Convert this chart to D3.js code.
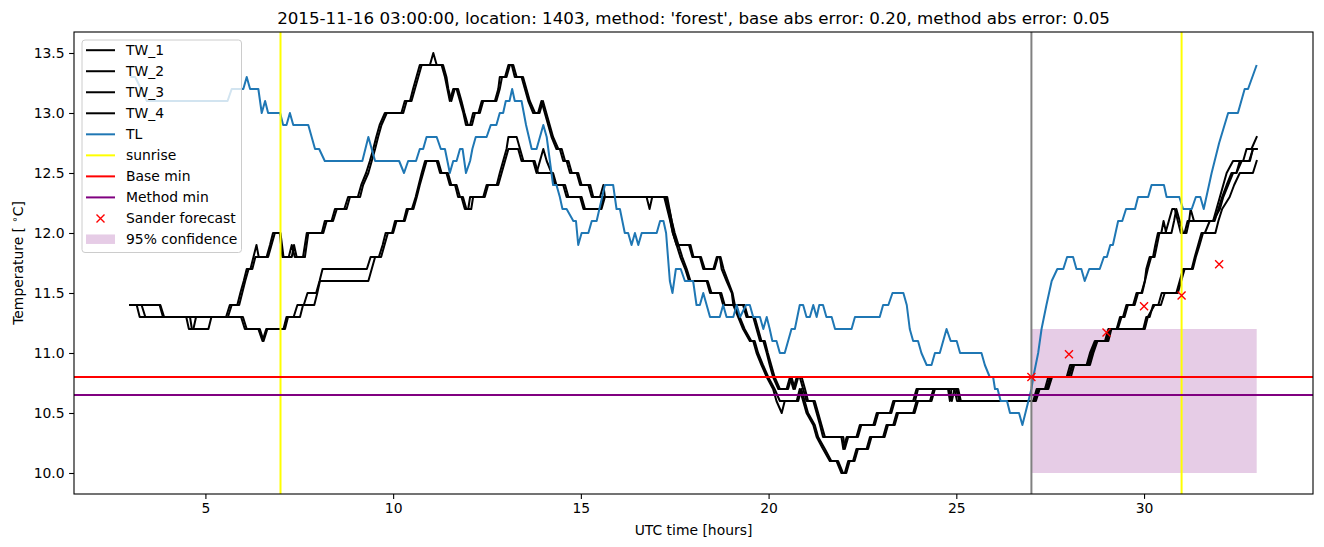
<!DOCTYPE html>
<html><head><meta charset="utf-8">
<script src="https://cdn.jsdelivr.net/npm/d3@7"></script>
<style>body{margin:0;background:#fff} text{font-family:"DejaVu Sans",sans-serif}</style>
</head><body><svg id="c" width="1324" height="547"></svg>
<script>
const TITLE = "2015-11-16 03:00:00, location: 1403, method: 'forest', base abs error: 0.20, method abs error: 0.05";
const X_LABEL = "UTC time [hours]";
const X_TICKS = [5, 10, 15, 20, 25, 30];
const Y_TICKS = [10.0, 10.5, 11.0, 11.5, 12.0, 12.5, 13.0, 13.5];
const SUNRISE = [7, 31];
const NOW_T = 27;
const BASE_MIN = 10.8;
const METHOD_MIN = 10.65;
const FORECAST_T = [27, 28, 29, 30, 31, 32];
const FORECAST_V = [10.80, 10.99, 11.17, 11.39, 11.48, 11.74];
const CONF_T = [27, 33];
const CONF_V = [10.0, 11.2];
const LEGEND_LABELS = ["TW_1","TW_2","TW_3","TW_4","TL","sunrise","Base min","Method min","Sander forecast","95% confidence"];

const TW_1 = [[3.0,11.4],[3.17,11.4],[3.25,11.3],[5.55,11.3],[5.65,11.4],[5.85,11.4],[5.93,11.5],[6.02,11.6],[6.1,11.7],[6.2,11.7],[6.28,11.8],[6.36,11.9],[6.42,11.8],[6.63,11.8],[6.72,11.9],[6.8,12.0],[6.98,12.0],[7.05,11.8],[7.22,11.8],[7.3,11.9],[7.38,11.8],[7.6,11.8],[7.7,12.0],[8.1,12.0],[8.18,12.1],[8.36,12.1],[8.45,12.2],[8.7,12.2],[8.8,12.3],[9.06,12.3],[9.15,12.4],[9.28,12.5],[9.38,12.6],[9.47,12.7],[9.55,12.8],[9.64,12.9],[9.78,13.0],[10.22,13.0],[10.31,13.1],[10.45,13.1],[10.53,13.2],[10.62,13.3],[10.71,13.4],[10.98,13.4],[11.07,13.5],[11.16,13.4],[11.29,13.4],[11.38,13.3],[11.51,13.1],[11.6,13.2],[11.69,13.2],[11.78,13.1],[11.87,13.0],[11.94,12.9],[12.05,12.9],[12.13,13.0],[12.27,13.0],[12.36,13.1],[12.71,13.1],[12.8,13.2],[12.84,13.3],[12.98,13.3],[13.07,13.4],[13.16,13.4],[13.24,13.3],[13.42,13.3],[13.51,13.2],[13.6,13.1],[13.73,13.0],[13.86,13.0],[13.95,13.1],[14.04,13.0],[14.13,12.9],[14.22,12.8],[14.35,12.7],[14.44,12.7],[14.53,12.6],[14.62,12.6],[14.71,12.5],[14.89,12.5],[14.98,12.4],[15.2,12.4],[15.29,12.3],[15.51,12.3],[15.6,12.4],[15.64,12.3],[17.27,12.3],[17.45,12.0],[17.55,11.9],[17.88,11.9],[17.97,11.8],[18.17,11.8],[18.26,11.7],[18.53,11.7],[18.62,11.8],[18.7,11.8],[18.75,11.7],[18.88,11.6],[19.02,11.5],[19.06,11.4],[19.32,11.4],[19.41,11.3],[19.59,11.3],[19.68,11.2],[19.77,11.1],[19.86,11.1],[19.95,11.0],[20.03,10.9],[20.12,10.8],[20.26,10.7],[20.48,10.7],[20.57,10.8],[20.66,10.7],[20.75,10.8],[20.83,10.8],[20.92,10.7],[21.01,10.6],[21.19,10.6],[21.28,10.5],[21.37,10.4],[21.45,10.3],[21.94,10.3],[21.99,10.2],[22.08,10.3],[22.34,10.3],[22.43,10.4],[22.79,10.4],[22.88,10.5],[23.23,10.5],[23.32,10.6],[23.85,10.6],[23.94,10.7],[24.78,10.7],[24.83,10.6],[24.87,10.7],[25.0,10.7],[25.1,10.6],[27.05,10.6],[27.14,10.7],[27.36,10.7],[27.45,10.8],[27.94,10.8],[28.03,10.9],[28.47,10.9],[28.56,11.0],[28.69,11.1],[28.96,11.1],[29.05,11.2],[29.27,11.2],[29.36,11.3],[29.44,11.3],[29.53,11.4],[29.71,11.4],[29.8,11.5],[29.93,11.5],[30.02,11.6],[30.06,11.7],[30.15,11.8],[30.24,11.8],[30.3,11.9],[30.37,12.0],[30.46,12.0],[30.52,12.1],[30.59,12.0],[30.73,12.0],[30.8,12.1],[30.86,12.2],[30.95,12.1],[31.04,12.0],[31.13,12.0],[31.2,12.1],[31.24,12.2],[31.33,12.1],[31.84,12.1],[31.93,12.2],[32.02,12.3],[32.11,12.4],[32.2,12.5],[32.37,12.6],[32.64,12.6],[32.73,12.7],[32.86,12.7],[33.0,12.8]];

const TW_2 = [[3.0,11.4],[3.3,11.4],[3.4,11.3],[5.6,11.3],[5.7,11.4],[5.9,11.4],[5.98,11.5],[6.06,11.6],[6.15,11.7],[6.25,11.7],[6.33,11.8],[6.67,11.8],[6.76,11.9],[6.85,12.0],[7.0,12.0],[7.08,11.8],[7.3,11.8],[7.36,11.9],[7.43,11.8],[7.65,11.8],[7.74,12.0],[8.14,12.0],[8.23,12.1],[8.4,12.1],[8.5,12.2],[8.76,12.2],[8.85,12.3],[9.12,12.3],[9.2,12.4],[9.34,12.5],[9.43,12.6],[9.52,12.7],[9.6,12.8],[9.69,12.9],[9.83,13.0],[10.27,13.0],[10.36,13.1],[10.49,13.1],[10.58,13.2],[10.67,13.3],[10.76,13.4],[11.33,13.4],[11.42,13.3],[11.47,13.2],[11.55,13.1],[11.64,13.2],[11.73,13.2],[11.82,13.1],[11.9,13.0],[11.99,12.9],[12.1,12.9],[12.18,13.0],[12.31,13.0],[12.4,13.1],[12.75,13.1],[12.84,13.2],[12.9,13.3],[13.02,13.3],[13.11,13.4],[13.2,13.4],[13.29,13.3],[13.46,13.3],[13.55,13.2],[13.64,13.1],[13.78,13.0],[13.9,13.0],[13.99,13.1],[14.08,13.0],[14.17,12.9],[14.26,12.8],[14.4,12.7],[14.49,12.7],[14.58,12.6],[14.67,12.6],[14.76,12.5],[14.93,12.5],[15.02,12.4],[15.25,12.4],[15.33,12.3],[16.75,12.3],[16.83,12.2],[16.9,12.3],[17.3,12.3],[17.48,12.0],[17.58,11.9],[17.92,11.9],[18.0,11.8],[18.2,11.8],[18.3,11.7],[18.56,11.7],[18.65,11.8],[18.72,11.8],[18.8,11.7],[18.92,11.6],[19.04,11.5],[19.1,11.4],[19.36,11.4],[19.45,11.3],[19.63,11.3],[19.72,11.2],[19.81,11.1],[19.9,11.1],[19.98,11.0],[20.07,10.9],[20.16,10.8],[20.3,10.7],[20.52,10.7],[20.61,10.8],[20.7,10.7],[20.79,10.8],[20.88,10.8],[20.97,10.7],[21.05,10.6],[21.23,10.6],[21.32,10.5],[21.41,10.4],[21.5,10.3],[21.99,10.3],[22.03,10.2],[22.12,10.3],[22.38,10.3],[22.47,10.4],[22.83,10.4],[22.92,10.5],[23.27,10.5],[23.36,10.6],[23.9,10.6],[23.98,10.7],[24.8,10.7],[24.88,10.6],[24.95,10.7],[25.05,10.7],[25.12,10.6],[27.08,10.6],[27.18,10.7],[27.4,10.7],[27.5,10.8],[27.98,10.8],[28.08,10.9],[28.5,10.9],[28.6,11.0],[28.72,11.1],[29.0,11.1],[29.1,11.2],[29.3,11.2],[29.4,11.3],[29.48,11.3],[29.57,11.4],[29.75,11.4],[29.84,11.5],[29.95,11.5],[30.1,11.7],[30.19,11.8],[30.28,11.8],[30.41,12.0],[30.57,12.0],[30.66,12.1],[30.75,12.2],[30.82,12.2],[30.9,12.1],[30.98,12.0],[31.08,12.0],[31.16,12.1],[31.88,12.1],[31.98,12.2],[32.08,12.3],[32.2,12.4],[32.33,12.5],[32.46,12.5],[32.6,12.6],[32.8,12.6],[32.9,12.7],[33.0,12.7]];

const TW_3 = [[3.0,11.4],[3.78,11.4],[3.87,11.3],[4.49,11.3],[4.56,11.2],[4.68,11.2],[4.75,11.3],[5.95,11.3],[6.05,11.2],[6.41,11.2],[6.52,11.1],[6.62,11.2],[7.08,11.2],[7.16,11.3],[7.35,11.3],[7.45,11.4],[7.62,11.4],[7.72,11.5],[7.95,11.5],[8.04,11.6],[8.12,11.7],[9.3,11.7],[9.4,11.8],[9.62,11.8],[9.72,11.9],[9.8,12.0],[9.97,12.0],[10.05,12.1],[10.28,12.1],[10.36,12.2],[10.5,12.2],[10.6,12.3],[10.68,12.4],[10.76,12.5],[10.85,12.6],[11.16,12.6],[11.25,12.5],[11.42,12.5],[11.51,12.4],[11.65,12.4],[11.73,12.3],[11.82,12.3],[11.91,12.2],[12.0,12.2],[12.05,12.3],[12.4,12.3],[12.49,12.4],[12.76,12.4],[12.84,12.5],[12.93,12.6],[13.02,12.7],[13.07,12.8],[13.29,12.8],[13.38,12.7],[13.47,12.6],[13.73,12.6],[13.82,12.5],[13.91,12.6],[14.0,12.7],[14.09,12.6],[14.22,12.5],[14.31,12.4],[14.53,12.4],[14.62,12.3],[14.98,12.3],[15.07,12.2],[15.51,12.2],[15.6,12.3],[17.22,12.3],[17.3,12.2],[17.38,12.1],[17.45,12.0],[17.55,11.9],[17.65,11.8],[17.78,11.7],[17.88,11.6],[18.35,11.6],[18.44,11.5],[18.7,11.5],[18.79,11.4],[19.06,11.4],[19.19,11.3],[19.32,11.2],[19.5,11.1],[19.59,11.1],[19.68,11.0],[19.81,10.9],[19.95,10.8],[20.12,10.7],[20.21,10.6],[20.35,10.5],[20.43,10.6],[20.75,10.6],[20.83,10.7],[20.92,10.6],[21.01,10.5],[21.19,10.4],[21.28,10.3],[21.45,10.2],[21.63,10.1],[21.81,10.1],[21.94,10.0],[22.03,10.0],[22.12,10.1],[22.25,10.1],[22.34,10.2],[22.61,10.2],[22.7,10.3],[23.05,10.3],[23.14,10.4],[23.32,10.4],[23.41,10.5],[23.85,10.5],[23.94,10.6],[24.3,10.6],[24.39,10.7],[25.0,10.7],[25.08,10.6],[27.1,10.6],[27.2,10.7],[27.42,10.7],[27.52,10.8],[28.0,10.8],[28.1,10.9],[28.52,10.9],[28.62,11.0],[28.72,11.1],[29.0,11.1],[29.08,11.2],[29.98,11.2],[30.06,11.3],[30.15,11.3],[30.24,11.4],[30.38,11.4],[30.47,11.5],[30.86,11.5],[30.95,11.6],[31.04,11.7],[31.27,11.7],[31.35,11.8],[31.44,11.9],[31.53,12.0],[31.62,12.0],[31.75,12.1],[31.84,12.1],[32.02,12.2],[32.11,12.3],[32.24,12.4],[32.37,12.5],[32.46,12.5],[32.55,12.6],[32.82,12.6],[32.9,12.7],[33.0,12.7]];

const TW_4 = [[3.0,11.4],[3.8,11.4],[3.9,11.3],[4.59,11.3],[4.64,11.2],[5.08,11.2],[5.16,11.3],[6.0,11.3],[6.1,11.2],[6.45,11.2],[6.55,11.1],[6.65,11.2],[7.12,11.2],[7.2,11.3],[7.52,11.3],[7.6,11.4],[7.9,11.4],[7.98,11.5],[8.05,11.6],[9.34,11.6],[9.43,11.7],[9.52,11.8],[9.68,11.8],[9.77,11.9],[9.86,12.0],[10.0,12.0],[10.09,12.1],[10.31,12.1],[10.4,12.2],[10.54,12.2],[10.63,12.3],[10.71,12.4],[10.8,12.5],[10.89,12.6],[11.2,12.6],[11.29,12.5],[11.46,12.5],[11.55,12.4],[11.69,12.4],[11.78,12.3],[11.86,12.3],[11.95,12.2],[12.08,12.2],[12.13,12.3],[12.44,12.3],[12.53,12.4],[12.8,12.4],[12.89,12.5],[12.98,12.6],[13.07,12.7],[13.33,12.7],[13.42,12.6],[13.77,12.6],[13.86,12.5],[14.26,12.5],[14.35,12.4],[14.58,12.4],[14.67,12.3],[15.02,12.3],[15.11,12.2],[15.55,12.2],[15.64,12.3],[17.25,12.3],[17.35,12.2],[17.42,12.1],[17.5,12.0],[17.6,11.9],[17.7,11.8],[17.82,11.7],[17.92,11.6],[18.38,11.6],[18.48,11.5],[18.74,11.5],[18.83,11.4],[19.1,11.4],[19.23,11.3],[19.36,11.2],[19.54,11.1],[19.63,11.1],[19.72,11.0],[19.85,10.9],[19.99,10.8],[20.16,10.7],[20.3,10.6],[20.79,10.6],[20.87,10.7],[20.96,10.6],[21.05,10.5],[21.23,10.4],[21.32,10.3],[21.5,10.2],[21.67,10.1],[21.85,10.1],[21.98,10.0],[22.07,10.0],[22.16,10.1],[22.29,10.1],[22.38,10.2],[22.65,10.2],[22.74,10.3],[23.09,10.3],[23.18,10.4],[23.36,10.4],[23.45,10.5],[23.89,10.5],[23.98,10.6],[24.34,10.6],[24.43,10.7],[24.95,10.7],[25.02,10.6],[27.12,10.6],[27.22,10.7],[27.45,10.7],[27.55,10.8],[28.05,10.8],[28.14,10.9],[28.56,10.9],[28.65,11.0],[28.76,11.1],[29.05,11.1],[29.13,11.2],[30.02,11.2],[30.1,11.3],[30.28,11.4],[30.45,11.4],[30.55,11.5],[30.9,11.5],[30.99,11.6],[31.08,11.7],[31.3,11.7],[31.38,11.8],[31.48,11.9],[31.57,12.0],[31.9,12.0],[31.98,12.1],[32.08,12.2],[32.28,12.3],[32.4,12.4],[32.55,12.5],[32.9,12.5],[33.0,12.6]];

const TL = [[3.0,13.3],[3.13,13.3],[3.44,13.1],[5.59,13.1],[5.7,13.2],[6.01,13.2],[6.1,13.3],[6.19,13.2],[6.41,13.2],[6.5,13.0],[6.59,13.1],[6.67,13.0],[6.99,13.0],[7.07,12.9],[7.16,12.9],[7.25,13.0],[7.34,12.9],[7.74,12.9],[7.92,12.7],[8.03,12.7],[8.18,12.6],[9.18,12.6],[9.34,12.8],[9.52,12.6],[10.16,12.6],[10.29,12.5],[10.4,12.6],[10.61,12.6],[10.71,12.7],[10.8,12.7],[10.89,12.8],[11.16,12.8],[11.27,12.7],[11.38,12.7],[11.51,12.5],[11.6,12.6],[11.69,12.6],[11.78,12.7],[11.85,12.7],[11.94,12.5],[12.05,12.6],[12.11,12.7],[12.2,12.8],[12.49,12.8],[12.6,12.9],[12.75,12.9],[12.84,13.0],[12.93,13.0],[13.0,13.1],[13.1,13.1],[13.17,13.2],[13.24,13.1],[13.42,13.1],[13.54,12.9],[13.69,12.7],[13.82,12.7],[14.0,12.9],[14.09,12.8],[14.26,12.4],[14.35,12.4],[14.44,12.3],[14.51,12.2],[14.62,12.2],[14.8,12.1],[14.87,12.1],[14.93,11.9],[15.02,12.0],[15.2,12.0],[15.29,12.1],[15.42,12.1],[15.64,12.4],[15.86,12.4],[15.95,12.2],[16.04,12.2],[16.17,12.0],[16.26,12.0],[16.35,11.9],[16.44,12.0],[16.53,11.9],[16.62,12.0],[17.02,12.0],[17.11,12.1],[17.2,12.1],[17.27,12.0],[17.37,11.6],[17.44,11.5],[17.53,11.7],[17.66,11.7],[17.77,11.6],[17.99,11.6],[18.08,11.4],[18.17,11.4],[18.26,11.5],[18.35,11.4],[18.44,11.3],[18.7,11.3],[18.79,11.4],[18.88,11.3],[19.06,11.3],[19.15,11.4],[19.24,11.3],[19.4,11.4],[19.5,11.4],[19.59,11.3],[19.77,11.3],[19.86,11.2],[19.95,11.3],[20.03,11.2],[20.1,11.1],[20.21,11.1],[20.3,11.0],[20.43,11.0],[20.61,11.2],[20.7,11.2],[20.83,11.4],[20.92,11.4],[21.01,11.3],[21.1,11.3],[21.19,11.4],[21.28,11.3],[21.35,11.4],[21.45,11.4],[21.54,11.3],[21.68,11.3],[21.77,11.2],[22.21,11.2],[22.3,11.3],[22.96,11.3],[23.05,11.4],[23.19,11.4],[23.3,11.5],[23.59,11.5],[23.68,11.4],[23.76,11.2],[23.85,11.1],[23.98,11.1],[24.07,11.0],[24.21,10.9],[24.34,10.9],[24.43,11.0],[24.56,11.0],[24.74,11.2],[24.85,11.1],[25.01,11.1],[25.1,11.0],[25.67,11.0],[25.76,10.9],[25.89,10.8],[25.98,10.8],[26.03,10.7],[26.1,10.7],[26.18,10.6],[26.35,10.6],[26.43,10.5],[26.67,10.5],[26.76,10.4],[27.0,10.7],[27.05,10.8],[27.18,11.0],[27.27,11.2],[27.4,11.4],[27.54,11.6],[27.69,11.7],[27.85,11.7],[27.95,11.8],[28.11,11.8],[28.2,11.7],[28.33,11.7],[28.42,11.6],[28.54,11.7],[28.82,11.7],[28.93,11.8],[29.01,11.8],[29.1,11.9],[29.17,11.9],[29.31,12.1],[29.42,12.1],[29.52,12.2],[29.76,12.2],[29.84,12.3],[30.11,12.3],[30.2,12.4],[30.53,12.4],[30.6,12.3],[30.94,12.3],[31.04,12.2],[31.27,12.2],[31.38,12.3],[31.5,12.3],[31.59,12.2],[31.8,12.5],[32.0,12.75],[32.24,13.0],[32.5,13.0],[32.68,13.2],[32.77,13.2],[33.0,13.4]];

const W = 1324, H = 547;
const M = {left: 74, right: 1313, top: 32, bottom: 494};
const svg = d3.select("#c");
const x = d3.scaleLinear().domain([1.5, 34.5]).range([M.left, M.right]);
const y = d3.scaleLinear().domain([9.825, 13.675]).range([M.bottom, M.top]);
const FS = 13.9;

svg.append("defs").append("clipPath").attr("id","clip")
  .append("rect").attr("x",M.left).attr("y",M.top).attr("width",M.right-M.left).attr("height",M.bottom-M.top);
const plot = svg.append("g").attr("clip-path","url(#clip)");

// confidence box
plot.append("rect")
  .attr("x", x(CONF_T[0])).attr("width", x(CONF_T[1]) - x(CONF_T[0]))
  .attr("y", y(CONF_V[1])).attr("height", y(CONF_V[0]) - y(CONF_V[1]))
  .attr("fill", "purple").attr("fill-opacity", 0.2);

const line = d3.line().x(d => x(d[0])).y(d => y(d[1]));
[TW_1, TW_2, TW_3, TW_4].forEach(s => {
  plot.append("path").attr("d", line(s)).attr("fill","none").attr("stroke","black")
    .attr("stroke-width", 2).attr("stroke-linejoin","round").attr("stroke-linecap","square");
});
plot.append("path").attr("d", line(TL)).attr("fill","none").attr("stroke","#1f77b4")
  .attr("stroke-width", 2).attr("stroke-linejoin","round");

SUNRISE.forEach(t => plot.append("line").attr("x1",x(t)).attr("x2",x(t)).attr("y1",M.top).attr("y2",M.bottom)
  .attr("stroke","yellow").attr("stroke-width",2));
plot.append("line").attr("x1",M.left).attr("x2",M.right).attr("y1",y(BASE_MIN)).attr("y2",y(BASE_MIN))
  .attr("stroke","red").attr("stroke-width",2);
plot.append("line").attr("x1",M.left).attr("x2",M.right).attr("y1",y(METHOD_MIN)).attr("y2",y(METHOD_MIN))
  .attr("stroke","purple").attr("stroke-width",2);
plot.append("line").attr("x1",x(NOW_T)).attr("x2",x(NOW_T)).attr("y1",M.top).attr("y2",M.bottom)
  .attr("stroke","grey").attr("stroke-width",2);

const cross = "M-4,-4L4,4M-4,4L4,-4";
FORECAST_T.forEach((t,i) => plot.append("path").attr("d",cross)
  .attr("transform",`translate(${x(t)},${y(FORECAST_V[i])})`).attr("stroke","red").attr("stroke-width",1.4).attr("fill","none"));

// axes
const xa = svg.append("g").attr("transform",`translate(0,${M.bottom})`)
  .call(d3.axisBottom(x).tickValues(X_TICKS).tickSize(4.9).tickPadding(4.5).tickFormat(d3.format("d")));
const ya = svg.append("g").attr("transform",`translate(${M.left},0)`)
  .call(d3.axisLeft(y).tickValues(Y_TICKS).tickSize(4.9).tickPadding(4.5).tickFormat(d3.format(".1f")));
[xa, ya].forEach(a => {
  a.select(".domain").remove();
  a.selectAll("line").attr("stroke","black").attr("stroke-width",1.1);
  a.selectAll("text").attr("font-size",FS).attr("font-family","DejaVu Sans").attr("fill","black");
});
svg.append("rect").attr("x",M.left).attr("y",M.top).attr("width",M.right-M.left).attr("height",M.bottom-M.top)
  .attr("fill","none").attr("stroke","black").attr("stroke-width",1.1);

// labels
svg.append("text").attr("x",(M.left+M.right)/2).attr("y",24).attr("text-anchor","middle")
  .attr("font-size",16.7).text(TITLE);
svg.append("text").attr("x",(M.left+M.right)/2).attr("y",535).attr("text-anchor","middle")
  .attr("font-size",FS).text(X_LABEL);
const yl = svg.append("text").attr("transform",`translate(23,${(M.top+M.bottom)/2}) rotate(-90)`)
  .attr("text-anchor","middle").attr("font-size",FS);
yl.append("tspan").text("Temperature [ ");
yl.append("tspan").attr("font-size",10).attr("dy",-5).text("∘");
yl.append("tspan").attr("dy",5).text("C]");

// legend
const lg = svg.append("g");
lg.append("rect").attr("x",82).attr("y",40).attr("width",159.5).attr("height",212.5).attr("rx",3)
  .attr("fill","white").attr("fill-opacity",0.8).attr("stroke","#cccccc").attr("stroke-width",1);
const LCOL = ["black","black","black","black","#1f77b4","yellow","red","purple"];
LEGEND_LABELS.forEach((lab,i) => {
  const cy = 50.2 + i*21.03;
  if (i < 8) {
    lg.append("line").attr("x1",86).attr("x2",115).attr("y1",cy).attr("y2",cy).attr("stroke",LCOL[i]).attr("stroke-width",2);
  } else if (i === 8) {
    lg.append("path").attr("d",cross).attr("transform",`translate(100.5,${cy})`).attr("stroke","red").attr("stroke-width",1.4);
  } else {
    lg.append("rect").attr("x",86).attr("width",29).attr("y",cy-5).attr("height",9.5).attr("fill","purple").attr("fill-opacity",0.2);
  }
  lg.append("text").attr("x",126).attr("y",cy).attr("dy","0.36em").attr("font-size",FS).text(lab);
});
</script></body></html>
